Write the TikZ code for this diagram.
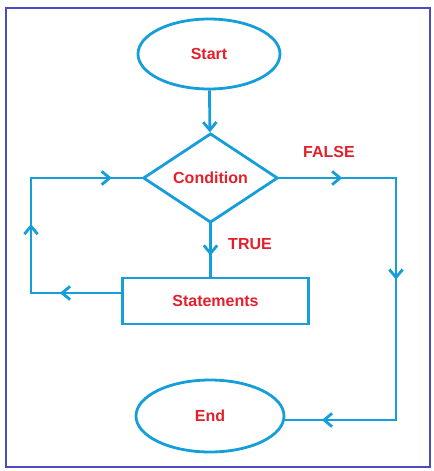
\documentclass[tikz,border=0pt]{standalone}
\usepackage{fontspec}
\setmainfont{Liberation Sans}
\usetikzlibrary{shapes.geometric,arrows.meta,decorations.markings}

\definecolor{flowblue}{RGB}{22,158,218}
\definecolor{flowred}{RGB}{226,32,44}
\definecolor{framecol}{RGB}{76,76,192}

\tikzset{
  flowline/.style={draw=flowblue,line width=2.1pt},
  terminal/.style={ellipse,flowline,inner sep=0pt,text=flowred,font=\fontsize{12}{14}\selectfont\bfseries},
  decision/.style={diamond,flowline,inner sep=0pt,text=flowred,font=\fontsize{12}{14}\selectfont\bfseries},
  process/.style={rectangle,flowline,inner sep=0pt,text=flowred,font=\fontsize{12}{14}\selectfont\bfseries},
  branchlabel/.style={text=flowred,font=\fontsize{12}{14}\selectfont\bfseries},
  midarrow/.style={flowline,line cap=rect,postaction={decorate},
    decoration={markings,mark=at position #1 with {\arrow[flowblue,line width=2.1pt]{Straight Barb[length=6pt,width=10pt]}}}}
}

\begin{document}
\begin{tikzpicture}[x=0.75pt,y=0.75pt,yscale=-1,xscale=1]
  \useasboundingbox (0,0) rectangle (433,471);
  %Frame
  \draw[framecol,line width=2.1pt] (6,8) rectangle (430,467);

  %Nodes
  \node[terminal,minimum width=106.5pt,minimum height=52.5pt] (start) at (209,54) {Start};
  \node[decision,minimum width=101pt,minimum height=67pt] (cond) at (210.5,178) {Condition};
  \node[process,minimum width=139pt,minimum height=34.5pt] (stmt) at (215.5,301) {Statements};
  \node[terminal,minimum width=111pt,minimum height=54pt] (stop) at (210,416) {End};

  %Labels
  \node[branchlabel] (falselbl) at (329,152) {FALSE};
  \node[branchlabel] (truelbl) at (250,244) {TRUE};

  %Corners
  \coordinate (loopbl) at (31,293);
  \coordinate (looptl) at (31,178);
  \coordinate (falsetr) at (396,178);
  \coordinate (falsebr) at (396,420);

  %Straight Lines
  \draw[flowline,-{Straight Barb[length=6pt,width=10pt]}] (start) -- (cond);
  \draw[midarrow=0.6] (cond.south) -- (cond.south |- stmt.north);
  \draw[midarrow=0.68] (stmt.west |- loopbl) -- (loopbl);
  \draw[midarrow=0.6] (loopbl) -- (looptl);
  \draw[midarrow=0.73] (looptl) -- (cond.west);
  \draw[midarrow=0.54] (cond.east) -- (falsetr);
  \draw[midarrow=0.42] (falsetr) -- (falsebr);
  \draw[midarrow=0.67] (falsebr) -- (stop.east |- falsebr);
\end{tikzpicture}
\end{document}
